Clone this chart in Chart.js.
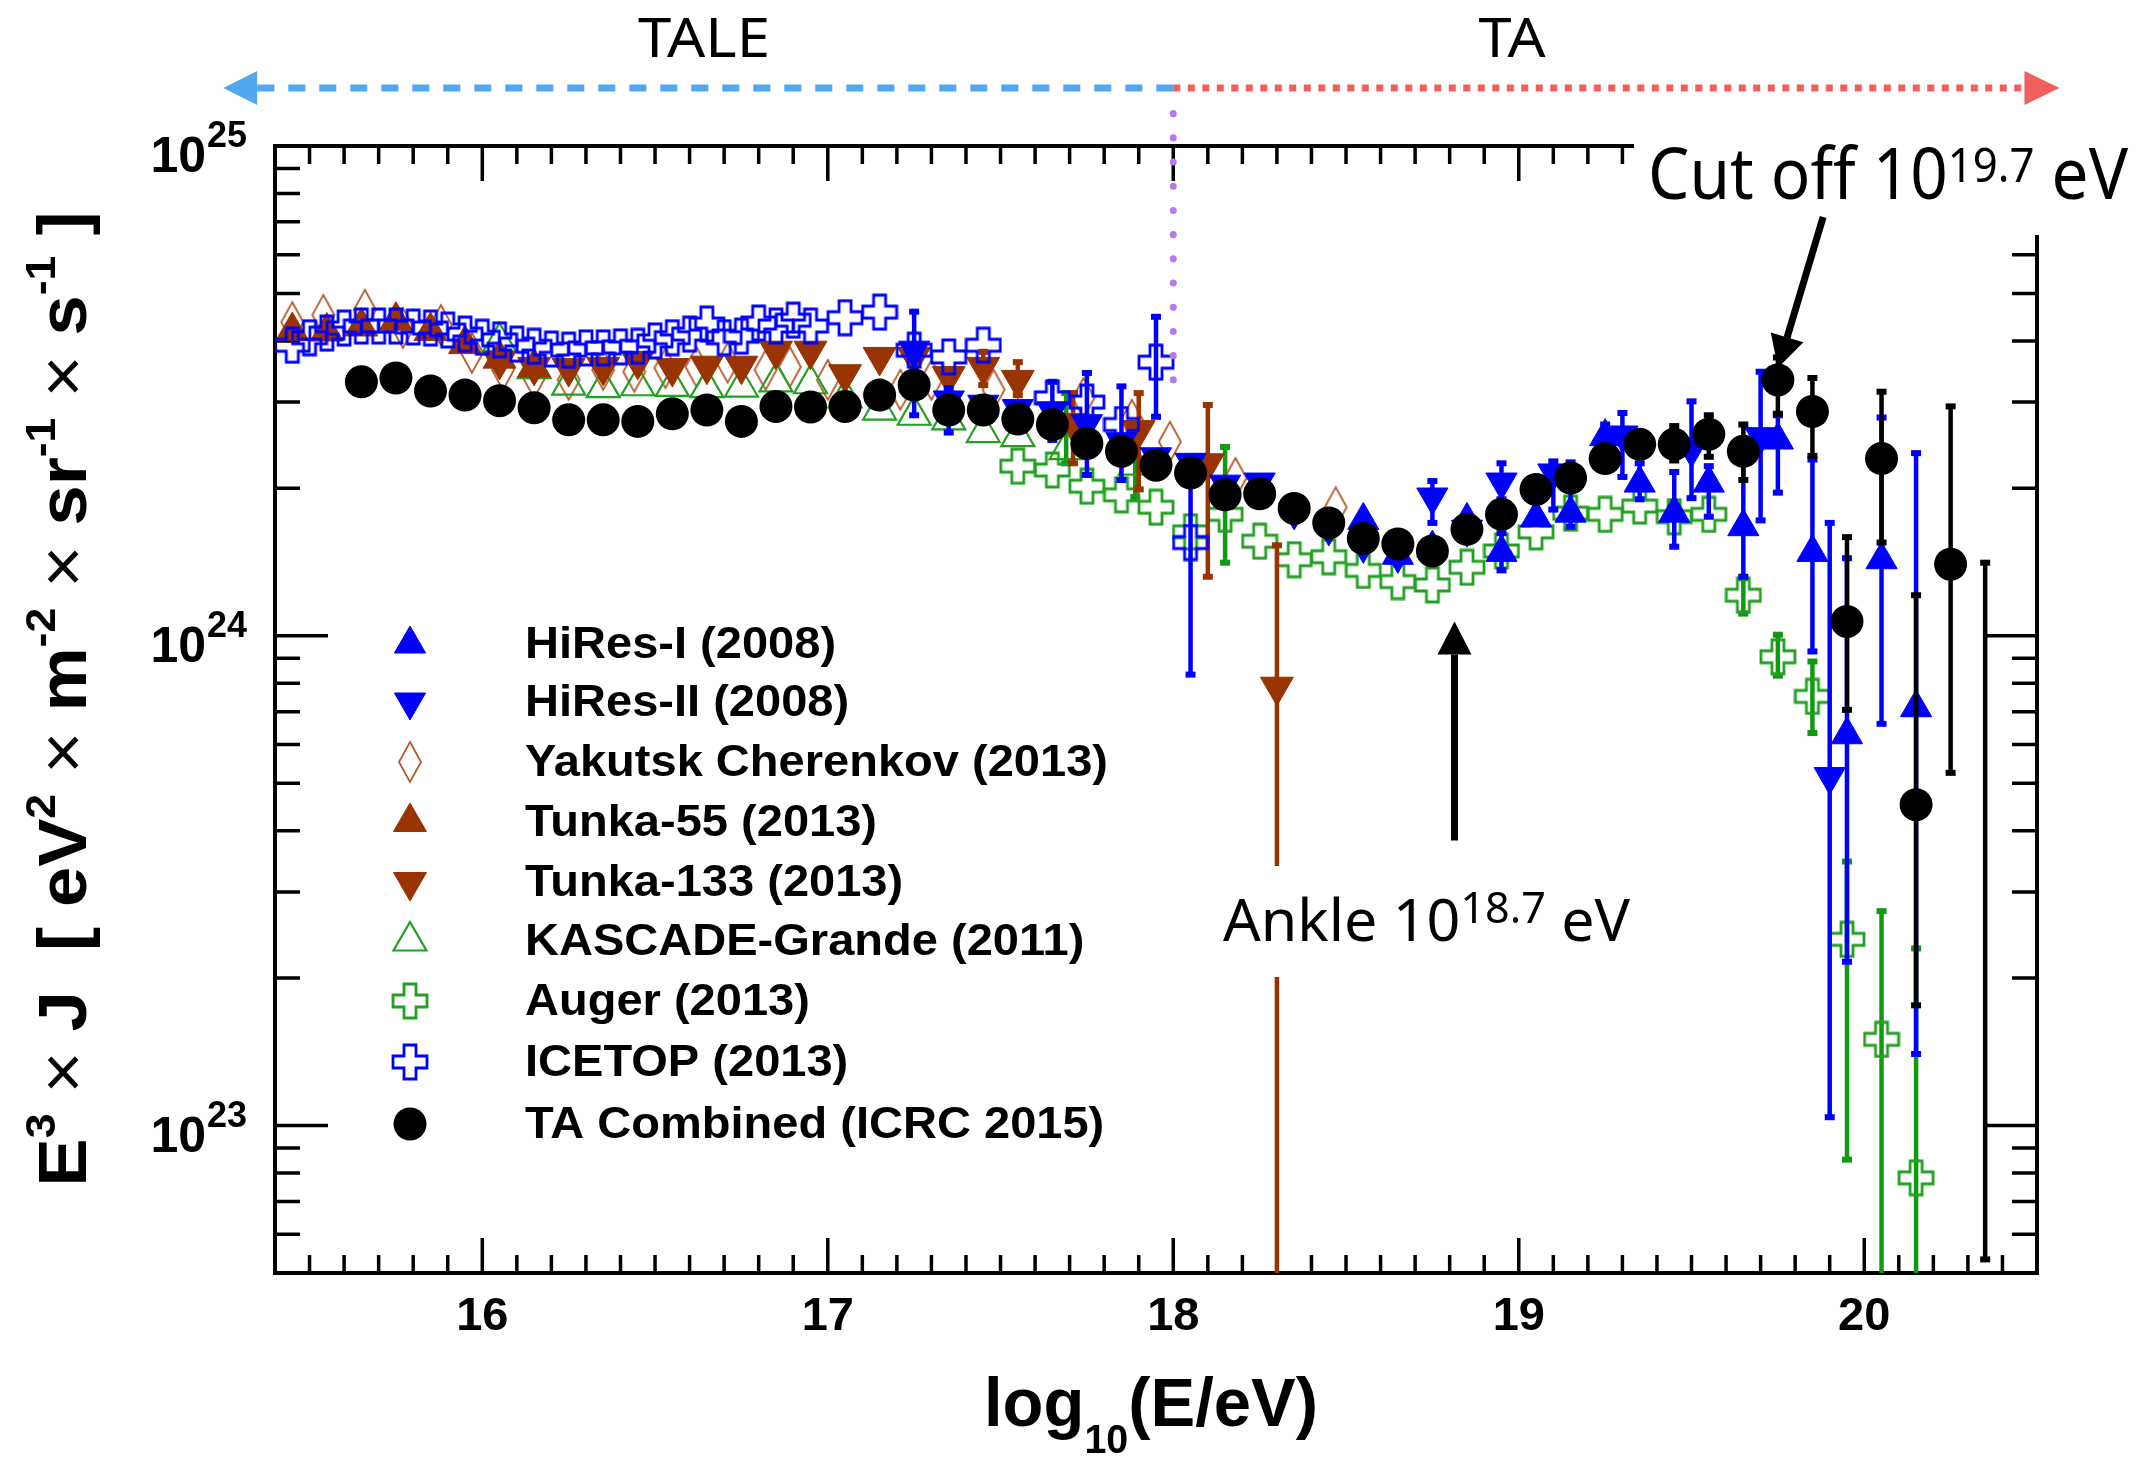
<!DOCTYPE html>
<html>
<head>
<meta charset="utf-8">
<script src="https://cdn.jsdelivr.net/npm/chart.js@4.4.1/dist/chart.umd.min.js"></script>
<style>
  html, body { margin: 0; padding: 0; background: #fff; }
  #wrap { width: 2138px; height: 1459px; }
</style>
</head>
<body>
<div id="wrap"><canvas id="spectrum" width="2138" height="1459"></canvas></div>
<script>
// x = log10(E/eV); y = E^3 J in units of 1e24 eV^2 m^-2 sr^-1 s^-1
var UNIT = 1e24;

var taE = [15.65,15.75,15.85,15.95,16.05,16.15,16.25,16.35,16.45,16.55,16.65,16.75,16.85,16.95,17.05,17.15,
           17.25,17.35,17.45,17.55,17.65,17.75,17.85,17.95,18.05,18.15,18.25,18.35,18.45,18.55,18.65,18.75,
           18.85,18.95,19.05,19.15,19.25,19.35,19.45,19.55,19.65,19.75,19.85,19.95,20.05,20.15,20.25,20.35];
var taJ = [3.30,3.36,3.16,3.10,3.02,2.92,2.76,2.76,2.74,2.84,2.89,2.74,2.94,2.93,2.94,3.10,
           3.25,2.89,2.89,2.77,2.70,2.47,2.38,2.23,2.15,1.94,1.95,1.82,1.70,1.58,1.54,1.49,
           1.65,1.77,1.99,2.10,2.30,2.46,2.46,2.58,2.38,3.33,2.87,1.07,2.30,0.452,1.40,null];
var taErrE  = [19.45,19.55,19.65,19.75,19.85,19.95,20.05,20.15,20.25,20.35];
var taErrHi = [2.68,2.82,2.70,3.70,3.36,1.59,3.15,1.21,2.94,1.41];
var taErrLo = [2.28,2.32,2.08,2.84,2.33,0.706,1.55,0.176,0.525,0.0533];

var hr1E = [18.55,18.65,18.75,18.85,18.95,19.05,19.15,19.25,19.35,19.45,19.55,19.65,19.75,19.85,19.95,20.05,20.15];
var hr1J = [1.72,1.46,1.51,1.72,1.48,1.74,1.78,2.55,2.05,1.78,2.05,1.67,2.51,1.48,0.628,1.43,0.713];
var hr1ErrE  = [18.95,19.15,19.25,19.35,19.45,19.55,19.65,19.75,19.85,19.95,20.05,20.15];
var hr1ErrHi = [1.62,2.26,2.70,2.25,2.16,2.22,2.29,2.82,2.29,1.44,2.79,2.36];
var hr1ErrLo = [1.36,1.67,2.40,1.90,1.52,1.75,1.32,1.96,0.929,0.216,0.661,0.140];

var hr2E = [17.25,17.35,17.45,17.55,17.65,17.75,17.85,17.95,18.05,18.15,18.25,18.35,18.45,18.55,18.65,18.75,
            18.85,18.95,19.10,19.30,19.50,19.70,19.90];
var hr2J = [3.83,3.03,2.97,2.91,2.88,2.71,2.49,2.32,2.26,2.04,2.06,1.79,1.66,1.53,1.46,1.92,
            1.65,2.06,2.15,2.57,2.40,2.55,0.516];
var hr2ErrE  = [17.25,17.35,17.65,17.75,17.85,18.75,18.95,19.10,19.30,19.50,19.70,19.90];
var hr2ErrHi = [4.59,3.20,3.30,3.44,3.23,2.07,2.25,2.27,2.85,3.01,3.46,1.70];
var hr2ErrLo = [2.82,2.60,2.51,2.13,2.08,1.70,1.90,1.81,2.11,1.91,1.72,0.104];

var yakE = [15.45,15.54,15.66,15.77,15.88,15.97,16.06,16.15,16.25,16.35,16.44,16.53,16.62,16.71,16.82,16.89,
            17.00,17.21,17.30,17.48,17.74,17.88,17.99,18.18,18.47];
var yakJ = [4.37,4.52,4.63,4.25,4.31,3.78,3.49,3.36,3.33,3.49,3.46,3.52,3.54,3.61,3.49,3.54,
            3.33,3.18,3.33,3.18,3.06,2.76,2.49,2.10,1.83];

var t55E = [15.45,15.55,15.65,15.75,15.85,15.95,16.05,16.15];
var t55J = [4.19,4.18,4.28,4.40,4.19,3.94,3.68,3.53];

var t133E = [16.05,16.15,16.25,16.35,16.45,16.55,16.65,16.75,16.85,16.95,17.05,17.15,17.25,17.35,17.45,17.55,
             17.71,17.90,18.10,18.30];
var t133J = [3.64,3.54,3.52,3.54,3.64,3.52,3.56,3.56,3.82,3.82,3.42,3.71,3.71,3.39,3.54,3.33,
             2.72,2.63,2.25,0.787];
var t133ErrE  = [17.45,17.55,17.71,17.90,18.10,18.30];
var t133ErrHi = [3.80,3.62,3.13,3.13,2.96,1.53];
var t133ErrLo = [3.25,3.10,2.25,1.99,1.32,0.01];

var kgE = [16.05,16.15,16.25,16.35,16.45,16.55,16.65,16.75,16.85,16.95,17.05,17.15,17.25,17.35,17.45,17.55,17.69,17.89];
var kgJ = [3.98,3.51,3.25,3.21,3.24,3.23,3.21,3.22,3.30,3.27,3.06,2.89,2.82,2.76,2.60,2.55,2.40,2.23];
var kgErrE  = [17.69,17.89];
var kgErrHi = [3.13,2.63];
var kgErrLo = [2.25,1.92];

var augE = [17.55,17.65,17.75,17.85,17.95,18.05,18.15,18.25,18.35,18.45,18.55,18.65,18.75,18.85,18.95,19.05,
            19.15,19.25,19.35,19.45,19.55,19.65,19.75,19.85,19.95,20.05,20.15];
var augJ = [2.22,2.18,2.02,1.94,1.83,1.63,1.77,1.56,1.43,1.45,1.36,1.29,1.27,1.38,1.49,1.63,
            1.78,1.77,1.84,1.75,1.77,1.21,0.906,0.752,0.240,0.150,0.0782];
var augErrE  = [18.15,19.65,19.75,19.85,19.95,20.05,20.15];
var augErrHi = [2.43,1.31,1.005,0.886,0.346,0.274,0.230];
var augErrLo = [1.41,1.11,0.829,0.633,0.0852,0.01,0.01];

var iceE = [15.45,15.50,15.55,15.60,15.65,15.70,15.75,15.80,15.85,15.90,15.95,16.00,16.05,16.10,16.15,16.20,
            16.25,16.30,16.35,16.40,16.45,16.50,16.55,16.60,16.65,16.70,16.75,16.80,16.85,16.90,16.95,
            17.05,17.15,17.25,17.35,17.45,17.65,17.75,17.85,17.95,18.05];
var iceJ = [3.92,4.06,4.15,4.25,4.29,4.29,4.29,4.27,4.25,4.21,4.13,4.07,4.02,3.94,3.90,3.85,
            3.83,3.87,3.87,3.89,3.90,4.00,4.06,4.13,4.33,4.06,4.09,4.35,4.29,4.41,4.29,
            4.46,4.58,3.83,3.71,3.92,3.06,3.00,2.70,3.62,1.55];
var iceErrE  = [17.95,18.05];
var iceErrHi = [4.48,2.05];
var iceErrLo = [2.80,0.833];

var xTicks = [16, 17, 18, 19, 20];
var yDecades = [23, 24, 25];

var SANS = '"Liberation Sans", Arial, Helvetica, sans-serif';
var ANNO = '"Noto Sans", "Open Sans", sans-serif';
var BLUE = '#0000ff', BROWN = '#993300', GREEN = '#119911', BLACK = '#000000';

function pts(xs, ys) {
    return xs.map(function(x, i) {
        return { x: x, y: ys[i] == null ? null : ys[i] * UNIT };
    });
}
function errs(xs, hi, lo) {
    return { x: xs, hi: hi, lo: lo };
}

// open marker images (hollow cross, tall diamond)
function makeCross(color) {
    var s = 34, arm = 12, lw = 2.8, o = 2;
    var c = document.createElement('canvas');
    c.width = s + 2 * o; c.height = s + 2 * o;
    var g = c.getContext('2d');
    var a = (s - arm) / 2;
    g.beginPath();
    g.moveTo(o + a, o); g.lineTo(o + a + arm, o); g.lineTo(o + a + arm, o + a);
    g.lineTo(o + s, o + a); g.lineTo(o + s, o + a + arm); g.lineTo(o + a + arm, o + a + arm);
    g.lineTo(o + a + arm, o + s); g.lineTo(o + a, o + s); g.lineTo(o + a, o + a + arm);
    g.lineTo(o, o + a + arm); g.lineTo(o, o + a); g.lineTo(o + a, o + a);
    g.closePath();
    g.lineWidth = lw; g.strokeStyle = color; g.stroke();
    return c;
}
function makeDiamond(color) {
    var w = 22, h = 40, o = 2;
    var c = document.createElement('canvas');
    c.width = w + 2 * o; c.height = h + 2 * o;
    var g = c.getContext('2d');
    g.beginPath();
    g.moveTo(o + w / 2, o); g.lineTo(o + w, o + h / 2); g.lineTo(o + w / 2, o + h); g.lineTo(o, o + h / 2);
    g.closePath();
    g.lineWidth = 1.8; g.strokeStyle = color; g.stroke();
    return c;
}
var crossBlue = makeCross(BLUE);
var crossGreen = makeCross('#22a022');
var diamondBrown = makeDiamond('#b2582c');

var datasets = [
    { label: 'TA Combined (ICRC 2015)', data: pts(taE, taJ), errorBars: errs(taErrE, taErrHi, taErrLo),
      barColor: BLACK, pointStyle: 'circle', pointRadius: 16.5,
      pointBackgroundColor: BLACK, pointBorderColor: BLACK, pointBorderWidth: 0 },
    { label: 'ICETOP (2013)', data: pts(iceE, iceJ), errorBars: errs(iceErrE, iceErrHi, iceErrLo),
      barColor: BLUE, pointStyle: crossBlue, pointRadius: 16 },
    { label: 'HiRes-II (2008)', data: pts(hr2E, hr2J), errorBars: errs(hr2ErrE, hr2ErrHi, hr2ErrLo),
      barColor: BLUE, pointStyle: 'triangle', pointRotation: 180, pointRadius: 18,
      pointBackgroundColor: BLUE, pointBorderColor: BLUE, pointBorderWidth: 1 },
    { label: 'HiRes-I (2008)', data: pts(hr1E, hr1J), errorBars: errs(hr1ErrE, hr1ErrHi, hr1ErrLo),
      barColor: BLUE, pointStyle: 'triangle', pointRadius: 18,
      pointBackgroundColor: BLUE, pointBorderColor: BLUE, pointBorderWidth: 1 },
    { label: 'Tunka-133 (2013)', data: pts(t133E, t133J), errorBars: errs(t133ErrE, t133ErrHi, t133ErrLo),
      barColor: BROWN, pointStyle: 'triangle', pointRotation: 180, pointRadius: 19,
      pointBackgroundColor: BROWN, pointBorderColor: BROWN, pointBorderWidth: 1 },
    { label: 'Tunka-55 (2013)', data: pts(t55E, t55J),
      pointStyle: 'triangle', pointRadius: 19,
      pointBackgroundColor: BROWN, pointBorderColor: BROWN, pointBorderWidth: 1 },
    { label: 'Auger (2013)', data: pts(augE, augJ), errorBars: errs(augErrE, augErrHi, augErrLo),
      barColor: GREEN, pointStyle: crossGreen, pointRadius: 16 },
    { label: 'KASCADE-Grande (2011)', data: pts(kgE, kgJ), errorBars: errs(kgErrE, kgErrHi, kgErrLo),
      barColor: GREEN, pointStyle: 'triangle', pointRadius: 19,
      pointBackgroundColor: 'rgba(0,0,0,0)', pointBorderColor: '#22a022', pointBorderWidth: 2.2 },
    { label: 'Yakutsk Cherenkov (2013)', data: pts(yakE, yakJ),
      pointStyle: diamondBrown, pointRadius: 16 }
];

var legendOrder = ['HiRes-I (2008)', 'HiRes-II (2008)', 'Yakutsk Cherenkov (2013)', 'Tunka-55 (2013)',
                   'Tunka-133 (2013)', 'KASCADE-Grande (2011)', 'Auger (2013)', 'ICETOP (2013)',
                   'TA Combined (ICRC 2015)'];

function richWidth(ctx, parts) {
    var w = 0;
    parts.forEach(function(p) { ctx.font = p.f; w += ctx.measureText(p.t).width; });
    return w;
}
function drawRich(ctx, parts, x, y, opt) {
    opt = opt || {};
    var w = richWidth(ctx, parts);
    var sx = opt.width ? opt.width / w : 1;
    var start = opt.align === 'center' ? -w * sx / 2 : (opt.align === 'right' ? -w * sx : 0);
    ctx.save();
    ctx.translate(x, y);
    if (opt.rotate) ctx.rotate(opt.rotate);
    ctx.translate(start, 0);
    ctx.scale(sx, 1);
    ctx.textAlign = 'left';
    ctx.textBaseline = 'alphabetic';
    ctx.fillStyle = opt.color || '#000';
    var cx = 0;
    parts.forEach(function(p) {
        ctx.font = p.f;
        ctx.fillText(p.t, cx, p.dy || 0);
        cx += ctx.measureText(p.t).width;
    });
    ctx.restore();
}

function drawMarker(ctx, ds, x, y) {
    var st = ds.pointStyle;
    if (typeof st === 'object') {
        ctx.drawImage(st, x - st.width / 2, y - st.height / 2);
        return;
    }
    var r = ds.pointRadius;
    ctx.fillStyle = ds.pointBackgroundColor;
    ctx.strokeStyle = ds.pointBorderColor;
    ctx.lineWidth = ds.pointBorderWidth || 1;
    ctx.beginPath();
    if (st === 'circle') {
        ctx.arc(x, y, r, 0, Math.PI * 2);
    } else {
        var rot = (ds.pointRotation || 0) * Math.PI / 180;
        for (var k = 0; k < 3; k++) {
            var a = rot + k * Math.PI * 2 / 3;
            var px = x + Math.sin(a) * r, py = y - Math.cos(a) * r;
            if (k === 0) ctx.moveTo(px, py); else ctx.lineTo(px, py);
        }
        ctx.closePath();
    }
    ctx.fill();
    if (ds.pointBorderWidth > 0) ctx.stroke();
}

function arrow(ctx, x0, y0, x1, y1, headLen, headHalf, lw, color) {
    var ang = Math.atan2(y1 - y0, x1 - x0);
    var bx = x1 - Math.cos(ang) * headLen, by = y1 - Math.sin(ang) * headLen;
    ctx.strokeStyle = color;
    ctx.lineWidth = lw;
    ctx.beginPath(); ctx.moveTo(x0, y0); ctx.lineTo(bx, by); ctx.stroke();
    ctx.fillStyle = color;
    ctx.beginPath();
    ctx.moveTo(x1, y1);
    ctx.lineTo(bx - Math.sin(ang) * headHalf, by + Math.cos(ang) * headHalf);
    ctx.lineTo(bx + Math.sin(ang) * headHalf, by - Math.cos(ang) * headHalf);
    ctx.closePath();
    ctx.fill();
}

// ROOT-like frame with inward ticks on all four sides
var framePlugin = {
    id: 'frame',
    beforeDatasetsDraw: function(chart) {
        var ctx = chart.ctx, a = chart.chartArea, xs = chart.scales.x, ys = chart.scales.y;
        ctx.save();
        ctx.strokeStyle = '#000';
        ctx.lineWidth = 4;
        ctx.strokeRect(a.left, a.top, a.right - a.left, a.bottom - a.top);
        ctx.lineWidth = 3.5;
        ctx.beginPath();
        for (var k = 155; k <= 205; k++) {
            var px = xs.getPixelForValue(k / 10);
            var len = (k % 10 === 0) ? 35 : 18;
            ctx.moveTo(px, a.bottom); ctx.lineTo(px, a.bottom - len);
            ctx.moveTo(px, a.top); ctx.lineTo(px, a.top + len);
        }
        for (var e = 22; e <= 24; e++) {
            for (var m = 1; m <= 9; m++) {
                var v = m * Math.pow(10, e);
                if (v < ys.min || v > ys.max) continue;
                var py = ys.getPixelForValue(v);
                var hl = (m === 1) ? 53 : 25;
                ctx.moveTo(a.left, py); ctx.lineTo(a.left + hl, py);
                ctx.moveTo(a.right, py); ctx.lineTo(a.right - hl, py);
            }
        }
        ctx.stroke();
        ctx.restore();
    }
};

var errorBarPlugin = {
    id: 'errorBars',
    beforeDatasetDraw: function(chart, args) {
        var ds = chart.data.datasets[args.index];
        var eb = ds.errorBars;
        if (!eb) return;
        var ctx = chart.ctx, a = chart.chartArea, xs = chart.scales.x, ys = chart.scales.y;
        ctx.save();
        ctx.beginPath();
        ctx.rect(a.left, a.top, a.right - a.left, a.bottom - a.top);
        ctx.clip();
        ctx.strokeStyle = ds.barColor;
        ctx.fillStyle = ds.barColor;
        ctx.lineWidth = 4.5;
        for (var i = 0; i < eb.x.length; i++) {
            var px = xs.getPixelForValue(eb.x[i]);
            var pHi = ys.getPixelForValue(eb.hi[i] * UNIT);
            var pLo = ys.getPixelForValue(eb.lo[i] * UNIT);
            ctx.beginPath(); ctx.moveTo(px, pHi); ctx.lineTo(px, pLo); ctx.stroke();
            ctx.fillRect(px - 5, pHi - 3, 10, 6);
            ctx.fillRect(px - 5, pLo - 3, 10, 6);
        }
        ctx.restore();
    }
};

var annotationPlugin = {
    id: 'annotations',
    afterDraw: function(chart) {
        var ctx = chart.ctx, a = chart.chartArea, xs = chart.scales.x, ys = chart.scales.y;
        ctx.save();

        // white label boxes (they hide part of the frame / Tunka bar)
        ctx.fillStyle = '#fff';
        ctx.fillRect(1634, 110, 2138 - 1634, 235 - 110);
        ctx.fillRect(1212, 866, 1640 - 1212, 977 - 866);

        // TALE / TA range arrows
        var split = xs.getPixelForValue(18);
        var rowY = a.top - 58;
        var leftTip = xs.getPixelForValue(15.25), rightTip = xs.getPixelForValue(20.565);
        ctx.lineWidth = 7;
        ctx.strokeStyle = '#52a7f0';
        ctx.setLineDash([17, 14]);
        ctx.beginPath(); ctx.moveTo(split, rowY); ctx.lineTo(leftTip + 34, rowY); ctx.stroke();
        ctx.strokeStyle = '#ef5f5c';
        ctx.setLineDash([7, 7.5]);
        ctx.beginPath(); ctx.moveTo(split, rowY); ctx.lineTo(rightTip - 35, rowY); ctx.stroke();
        ctx.setLineDash([]);
        ctx.fillStyle = '#52a7f0';
        ctx.beginPath(); ctx.moveTo(leftTip, rowY); ctx.lineTo(leftTip + 34, rowY - 17); ctx.lineTo(leftTip + 34, rowY + 17); ctx.closePath(); ctx.fill();
        ctx.fillStyle = '#ef5f5c';
        ctx.beginPath(); ctx.moveTo(rightTip, rowY); ctx.lineTo(rightTip - 35, rowY - 17); ctx.lineTo(rightTip - 35, rowY + 17); ctx.closePath(); ctx.fill();

        // purple dotted divider at log10(E/eV) = 18
        ctx.strokeStyle = '#b57be6';
        ctx.lineWidth = 7;
        ctx.lineCap = 'round';
        ctx.setLineDash([0.1, 24.1]);
        var divBottom = ys.getPixelForValue(3.33 * UNIT);
        ctx.beginPath(); ctx.moveTo(split, divBottom); ctx.lineTo(split, rowY + 12); ctx.stroke();
        ctx.setLineDash([]);
        ctx.lineCap = 'butt';

        drawRich(ctx, [{ t: 'TALE', f: '55px ' + ANNO }], 704, 57, { align: 'center', width: 132 });
        drawRich(ctx, [{ t: 'TA', f: '55px ' + ANNO }], 1512, 57, { align: 'center', width: 67 });

        // cut-off and ankle annotations
        arrow(ctx, xs.getPixelForValue(19.881), ys.getPixelForValue(7.16 * UNIT),
              xs.getPixelForValue(19.75), ys.getPixelForValue(3.52 * UNIT), 32, 17, 7, '#000');
        drawRich(ctx, [{ t: 'Cut off 10', f: '72px ' + ANNO },
                       { t: '19.7', f: '48px ' + ANNO, dy: -17 },
                       { t: ' eV', f: '72px ' + ANNO }], 1648, 199, { width: 480 });
        var ankX = xs.getPixelForValue(18.814);
        arrow(ctx, ankX, ys.getPixelForValue(0.382 * UNIT), ankX, ys.getPixelForValue(1.07 * UNIT), 33, 17, 7, '#000');
        drawRich(ctx, [{ t: 'Ankle 10', f: '59px ' + ANNO },
                       { t: '18.7', f: '43px ' + ANNO, dy: -18 },
                       { t: ' eV', f: '59px ' + ANNO }], 1223, 941, { width: 407 });

        // tick labels
        ctx.fillStyle = '#000';
        xTicks.forEach(function(t) {
            drawRich(ctx, [{ t: String(t), f: 'bold 47px ' + SANS }], xs.getPixelForValue(t), a.bottom + 57, { align: 'center' });
        });
        yDecades.forEach(function(e) {
            var py = ys.getPixelForValue(Math.pow(10, e));
            drawRich(ctx, [{ t: '10', f: 'bold 50px ' + SANS }], 206, py + 26, { align: 'right' });
            drawRich(ctx, [{ t: String(e), f: 'bold 36px ' + SANS }], 207, py + 1);
        });

        // axis titles
        drawRich(ctx, [{ t: 'log', f: 'bold 68px ' + SANS },
                       { t: '10', f: 'bold 40px ' + SANS, dy: 27 },
                       { t: '(E/eV)', f: 'bold 68px ' + SANS }], 1151, 1426, { align: 'center', width: 334 });
        var B = 'bold 68px ' + SANS, S = 'bold 42px ' + SANS, N = '68px ' + SANS;
        drawRich(ctx, [{ t: 'E', f: B }, { t: '3', f: S, dy: -31 }, { t: ' \u00d7 ', f: N }, { t: 'J', f: B },
                       { t: '  [ ', f: B }, { t: 'eV', f: B }, { t: '2', f: S, dy: -31 }, { t: ' \u00d7 ', f: N },
                       { t: 'm', f: B }, { t: '-2', f: S, dy: -31 }, { t: ' \u00d7 ', f: N },
                       { t: 'sr', f: B }, { t: '-1', f: S, dy: -31 }, { t: ' \u00d7 ', f: N },
                       { t: 's', f: B }, { t: '-1', f: S, dy: -31 }, { t: ' ]', f: B }],
                 86, 699, { align: 'center', width: 975, rotate: -Math.PI / 2 });

        // legend
        var rows = [644, 702, 762, 822, 882, 941, 1001, 1062, 1124];
        ctx.font = 'bold 45px ' + SANS;
        var legScale = 583 / ctx.measureText('Yakutsk Cherenkov (2013)').width;
        legendOrder.forEach(function(name, i) {
            var ds = datasets.filter(function(d) { return d.label === name; })[0];
            drawMarker(ctx, ds, 410, rows[i]);
            ctx.save();
            ctx.translate(525, rows[i]);
            ctx.scale(legScale, 1);
            ctx.fillStyle = '#000';
            ctx.font = 'bold 45px ' + SANS;
            ctx.textAlign = 'left';
            ctx.textBaseline = 'middle';
            ctx.fillText(name, 0, 2);
            ctx.restore();
        });
        ctx.restore();
    }
};

new Chart(document.getElementById('spectrum'), {
    type: 'scatter',
    data: { datasets: datasets },
    options: {
        responsive: false,
        animation: false,
        devicePixelRatio: 1,
        events: [],
        layout: { padding: { left: 275, top: 146, right: 101, bottom: 186 } },
        plugins: { legend: { display: false }, tooltip: { enabled: false } },
        scales: {
            x: { type: 'linear', min: 15.4, max: 20.5, display: false },
            y: { type: 'logarithmic', min: 5e22, max: 1e25, display: false }
        }
    },
    plugins: [framePlugin, errorBarPlugin, annotationPlugin]
});
</script>
</body>
</html>
